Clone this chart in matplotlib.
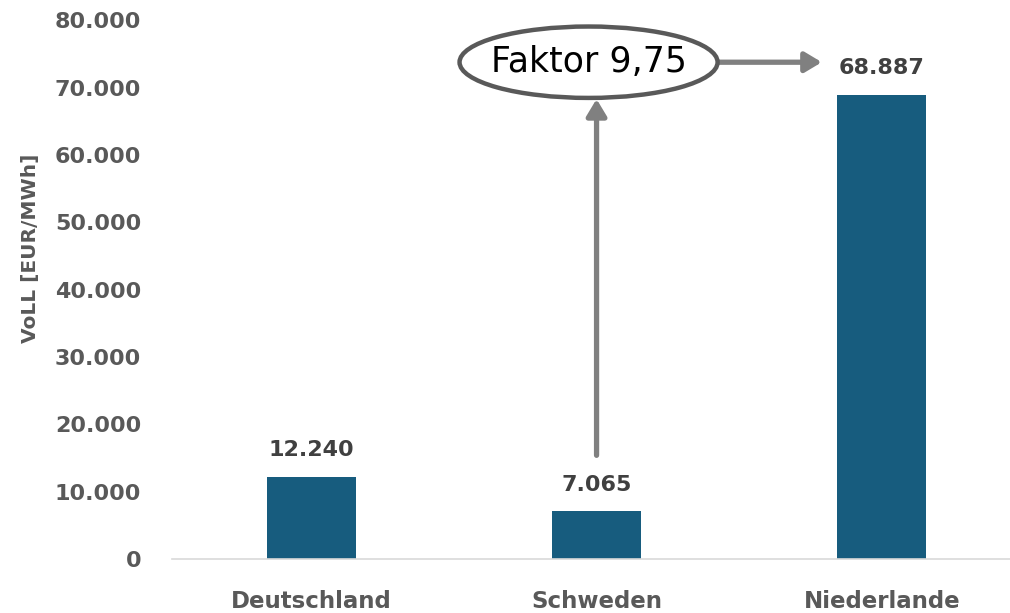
import matplotlib
matplotlib.use("Agg")
import matplotlib.pyplot as plt
from matplotlib.patches import Ellipse

laender = ["Deutschland", "Schweden", "Niederlande"]
voll = [12240, 7065, 68887]
wert_labels = ["12.240", "7.065", "68.887"]
y_ticks = [0, 10000, 20000, 30000, 40000, 50000, 60000, 70000, 80000]
y_tick_labels = ["0", "10.000", "20.000", "30.000", "40.000", "50.000", "60.000", "70.000", "80.000"]
faktor_text = "Faktor 9,75"

bar_farbe = "#175C7E"
tick_farbe = "#595959"
label_farbe = "#404040"
pfeil_farbe = "#808080"

fig = plt.figure(figsize=(10.10, 6.13), dpi=100)
ax = fig.add_axes([0.170, 0.088, 0.830, 0.879])

x = list(range(len(laender)))
ax.bar(x, voll, width=0.31, color=bar_farbe, zorder=2)

for xi, v, txt in zip(x, voll, wert_labels):
    ax.annotate(txt, (xi, v), xytext=(0, 12), textcoords="offset points",
                ha="center", va="bottom", fontsize=16, fontweight="bold",
                color=label_farbe)

ax.set_xlim(-0.49, 2.45)
ax.set_ylim(0, 80000)
ax.set_yticks(y_ticks)
ax.set_yticklabels(y_tick_labels)
ax.set_xticks(x)
ax.set_xticklabels(laender)

for lab in ax.get_yticklabels():
    lab.set_fontsize(16)
    lab.set_fontweight("bold")
    lab.set_color(tick_farbe)
for lab in ax.get_xticklabels():
    lab.set_fontsize(16.5)
    lab.set_fontweight("bold")
    lab.set_color(tick_farbe)

ax.tick_params(axis="y", length=0, pad=22)
ax.tick_params(axis="x", length=0, pad=22)
ax.set_ylabel("VoLL [EUR/MWh]", fontsize=14.5, fontweight="bold", color=tick_farbe)
ax.yaxis.set_label_coords(-0.169, 0.577)
ax.yaxis.label.set_va("center")

for s in ["top", "right", "left"]:
    ax.spines[s].set_visible(False)
ax.spines["bottom"].set_color("#D9D9D9")
ax.spines["bottom"].set_linewidth(1.2)

# Annotation: Faktor-Ellipse mit Pfeilen
ell_x, ell_y = 0.972, 73766
ax.add_patch(Ellipse((ell_x, ell_y), 0.905, 10600, facecolor="white",
                     edgecolor="#595959", linewidth=3.2, zorder=4, clip_on=False))
ax.text(ell_x, ell_y, faktor_text, ha="center", va="center", fontsize=25,
        color="black", zorder=5)

pfeil = dict(arrowstyle="-|>,head_length=1.0,head_width=0.6", color=pfeil_farbe,
             lw=3.8, shrinkA=0, shrinkB=0)
ax.annotate("", xy=(1.0, 68300), xytext=(1.0, 15400), arrowprops=pfeil, zorder=3)
ax.annotate("", xy=(1.79, ell_y), xytext=(1.43, ell_y), arrowprops=pfeil, zorder=3)

fig.savefig("out.png", dpi=100)
